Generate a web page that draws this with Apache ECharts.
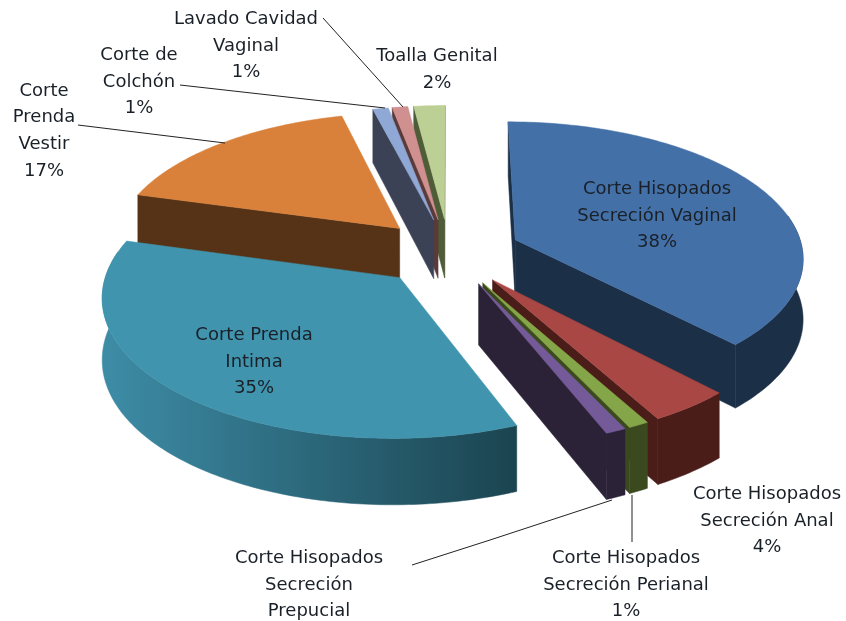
<!DOCTYPE html>
<html><head><meta charset="utf-8">
<style>html,body{margin:0;padding:0;background:#fff}#c{width:846px;height:621px}</style>
<script src="https://cdn.jsdelivr.net/npm/echarts@6/dist/echarts.min.js"></script>
</head><body><div id="c"></div>
<script>
const categories = ['Corte Hisopados Secreción Vaginal','Corte Hisopados Secreción Anal','Corte Hisopados Secreción Perianal','Corte Hisopados Secreción Prepucial','Corte Prenda Intima','Corte Prenda Vestir','Corte de Colchón','Lavado Cavidad Vaginal','Toalla Genital'];
const values = [38,4,1,1,35.4,16.7,1,1,2];
const topColors = ['#4470a8','#a94744','#84a548','#745a98','#4094ae','#d9813a','#8fa8d5','#d09090','#bccf94'];
const cutColors = ['#1b2f46','#4a1d19','#3a4a1e','#2c2238','#1b4a55','#563316','#3b4255','#5c3a3a','#4f5c38'];
const wallFrom  = ['#1b2f46','#4a1d19','#3a4a1e','#2c2238','#3d8ca6','#563316','#3b4255','#5c3a3a','#4f5c38'];
const wallTo    = ['#1b2f46','#4a1d19','#3a4a1e','#2c2238','#1b4450','#563316','#3b4255','#5c3a3a','#4f5c38'];
const labelTexts = [
 'Corte Hisopados\nSecreción Vaginal\n38%','Corte Hisopados\nSecreción Anal\n4%','Corte Hisopados\nSecreción Perianal\n1%',
 'Corte Hisopados\nSecreción\nPrepucial','Corte Prenda\nIntima\n35%','Corte\nPrenda\nVestir\n17%','Corte de\nColchón\n1%','Lavado Cavidad\nVaginal\n1%','Toalla Genital\n2%'];
const labelPos = [[657,216],[767,521],[626,585],[309,585],[254,362],[44,131],[139,82],[246,46],[437,70]];
const leaders = [
 [[78,125],[225,143]],
 [[180,85],[385,108]],
 [[323,18],[403,107]],
 [[412,565],[490,540],[612,500]],
 [[632,495],[632,542]]
];
// geometry of the projected pie
const G = {cx:449,cy:252,R:288,k:0.468,p:0.12,h:60,pd:0.09,e:0.25};
const total = values.reduce((a,b)=>a+b,0);
const starts = []; values.reduce((acc,v,i)=>{starts[i]=acc;return acc+v;},0);

function proj(X,Y,z){
  const s = 1/(1-G.p*Y);
  return [G.cx+G.R*X*s, G.cy+G.R*G.k*Y*s+z*G.h*(1+G.pd*Y)];
}
function polar(a){return [Math.sin(a),-Math.cos(a)];}
const order = values.map((v,i)=>i).sort((a,b)=>{
  const m=i=>-Math.cos((starts[i]+values[i]/2)/total*2*Math.PI);
  return m(a)-m(b);
});
function render(params,api){
  const i = api.value(1), v = api.value(0);
  const a0 = starts[i]/total*2*Math.PI, a1 = (starts[i]+v)/total*2*Math.PI, am=(a0+a1)/2;
  const [ex,ey] = polar(am); const ox=ex*G.e, oy=ey*G.e;
  const n = Math.max(4,Math.round((a1-a0)*60));
  const arc=[]; for(let j=0;j<=n;j++){const a=a0+(a1-a0)*j/n;const [x,y]=polar(a);arc.push([x+ox,y+oy,a]);}
  const P=(q,z)=>proj(q[0],q[1],z);
  const apex=[ox,oy];
  const kids=[];
  const sign=(A,B,C)=>(B[0]-A[0])*(C[1]-A[1])-(B[1]-A[1])*(C[0]-A[0]);
  const cut=(Q)=>{
    const pts=[P(apex,0),P(Q,0),P(Q,1),P(apex,1)];
    kids.push({type:'polygon',shape:{points:pts},style:{fill:cutColors[i],stroke:cutColors[i],lineWidth:.5}});
  };
  const first=arc[0], last=arc[arc.length-1];
  if(sign(P(apex,0),P(first,0),P(apex,1))<0) cut(first);
  if(sign(P(apex,0),P(last,0),P(apex,1))>0) cut(last);
  const front=arc.filter(q=>Math.cos(q[2])<=0.2);
  if(front.length>1){
    const pts=front.map(q=>P(q,0)).concat(front.slice().reverse().map(q=>P(q,1)));
    const xs=pts.map(p=>p[0]);const x0=Math.min(...xs),x1=Math.max(...xs);
    const fill=new echarts.graphic.LinearGradient(x0,0,x1,0,[{offset:0,color:wallFrom[i]},{offset:1,color:wallTo[i]}],true);
    kids.push({type:'polygon',shape:{points:pts},style:{fill:fill,stroke:fill,lineWidth:.5}});
  }
  const top=[P(apex,0)].concat(arc.map(q=>P(q,0)));
  kids.push({type:'polygon',shape:{points:top},style:{fill:topColors[i],stroke:topColors[i],lineWidth:.5}});
  return {type:'group',children:kids};
}
const graphics = [];
leaders.forEach(l=>graphics.push({type:'polyline',z:5,shape:{points:l},style:{stroke:'#222',lineWidth:1,fill:null}}));
labelTexts.forEach((t,i)=>graphics.push({type:'text',z:6,x:labelPos[i][0],y:labelPos[i][1],style:{
  text:t,align:'center',verticalAlign:'middle',fill:'#1a2028',font:'18px "DejaVu Sans"',lineHeight:26.7}}));
const chart = echarts.init(document.getElementById('c'),null,{renderer:'canvas'});
chart.setOption({
  animation:false,
  backgroundColor:'#fff',
  graphic:graphics,
  series:[{type:'custom',coordinateSystem:'none',renderItem:render,
    data:order.map(i=>({name:categories[i],value:[values[i],i]})),silent:true}]
});
</script></body></html>
